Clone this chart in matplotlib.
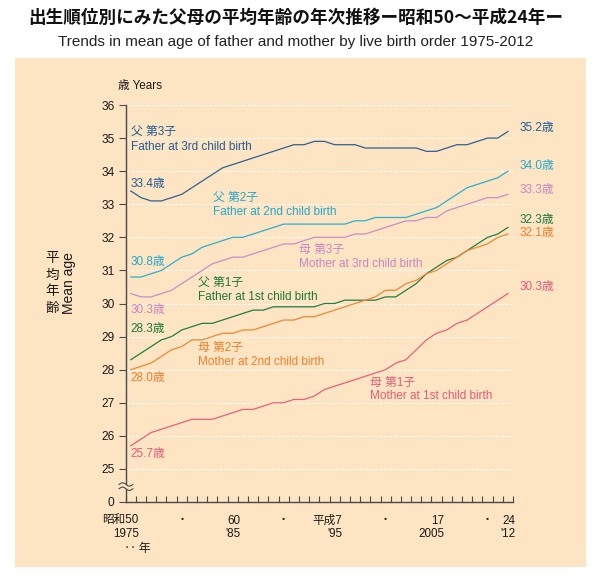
import matplotlib
matplotlib.use("Agg")
import matplotlib.pyplot as plt
from matplotlib.patches import Rectangle, Polygon
import numpy as np

years = list(range(1975, 2013))

father_3rd = [33.4, 33.2, 33.1, 33.1, 33.2, 33.3, 33.5, 33.7, 33.9, 34.1,
              34.2, 34.3, 34.4, 34.5, 34.6, 34.7, 34.8, 34.8, 34.9, 34.9,
              34.8, 34.8, 34.8, 34.7, 34.7, 34.7, 34.7, 34.7, 34.7, 34.6,
              34.6, 34.7, 34.8, 34.8, 34.9, 35.0, 35.0, 35.2]
father_2nd = [30.8, 30.8, 30.9, 31.0, 31.2, 31.4, 31.5, 31.7, 31.8, 31.9,
              32.0, 32.0, 32.1, 32.2, 32.3, 32.4, 32.4, 32.4, 32.4, 32.4,
              32.4, 32.4, 32.5, 32.5, 32.6, 32.6, 32.6, 32.6, 32.7, 32.8,
              32.9, 33.1, 33.3, 33.5, 33.6, 33.7, 33.8, 34.0]
mother_3rd = [30.3, 30.2, 30.2, 30.3, 30.4, 30.6, 30.8, 31.0, 31.2, 31.3,
              31.4, 31.4, 31.5, 31.6, 31.7, 31.8, 31.8, 31.9, 32.0, 32.0,
              32.0, 32.0, 32.1, 32.1, 32.2, 32.3, 32.4, 32.5, 32.5, 32.6,
              32.6, 32.8, 32.9, 33.0, 33.1, 33.2, 33.2, 33.3]
father_1st = [28.3, 28.5, 28.7, 28.9, 29.0, 29.2, 29.3, 29.4, 29.4, 29.5,
              29.6, 29.7, 29.8, 29.8, 29.9, 29.9, 29.9, 29.9, 29.9, 30.0,
              30.0, 30.1, 30.1, 30.1, 30.1, 30.2, 30.2, 30.4, 30.6, 30.9,
              31.1, 31.3, 31.4, 31.6, 31.8, 32.0, 32.1, 32.3]
mother_2nd = [28.0, 28.1, 28.2, 28.4, 28.6, 28.7, 28.9, 28.9, 29.0, 29.1,
              29.1, 29.2, 29.2, 29.3, 29.4, 29.5, 29.5, 29.6, 29.6, 29.7,
              29.8, 29.9, 30.0, 30.1, 30.2, 30.4, 30.4, 30.6, 30.7, 30.9,
              31.0, 31.2, 31.4, 31.6, 31.7, 31.8, 32.0, 32.1]
mother_1st = [25.7, 25.9, 26.1, 26.2, 26.3, 26.4, 26.5, 26.5, 26.5, 26.6,
              26.7, 26.8, 26.8, 26.9, 27.0, 27.0, 27.1, 27.1, 27.2, 27.4,
              27.5, 27.6, 27.7, 27.8, 27.9, 28.0, 28.2, 28.3, 28.6, 28.9,
              29.1, 29.2, 29.4, 29.5, 29.7, 29.9, 30.1, 30.3]

series_names_jp = ["父 第3子", "父 第2子", "母 第3子", "父 第1子", "母 第2子", "母 第1子"]
series_names_en = ["Father at 3rd child birth", "Father at 2nd child birth",
                   "Mother at 3rd child birth", "Father at 1st child birth",
                   "Mother at 2nd child birth", "Mother at 1st child birth"]

y_ticks = [24, 25, 26, 27, 28, 29, 30, 31, 32, 33, 34, 35, 36]
y_tick_labels = ["0", "25", "26", "27", "28", "29", "30", "31", "32", "33", "34", "35", "36"]
x_label_years = [1975, 1985, 1995, 2005, 2012]
x_label_texts = ["昭和50\n1975", "60\n'85", "平成7\n'95", "17\n2005", "24\n'12"]
x_dot_years = [1980, 1990, 2000, 2010]

title_jp = "出生順位別にみた父母の平均年齢の年次推移ー昭和50〜平成24年ー"
title_en = "Trends in mean age of father and mother by live birth order 1975-2012"

colors = ["#2a6394", "#2ab0d3", "#c88fc6", "#1f8040", "#ee8736", "#e8617c"]
text_colors = ["#215c96", "#22a9ce", "#c488c2", "#1a793a", "#ec8130", "#e55b78"]
bg = "#fde4c2"

FONT = ["Liberation Sans", "Noto Sans CJK JP", "DejaVu Sans"]
FONTJ = ["Noto Sans CJK JP", "Liberation Sans", "DejaVu Sans"]
plt.rcParams["font.family"] = FONT

W, H = 592, 575
fig = plt.figure(figsize=(W / 100, H / 100), dpi=100)
fig.patch.set_facecolor("white")

# background panel
fig.patches.append(Rectangle((15 / W, 1 - 567 / H), 571 / W, (567 - 58) / H,
                             transform=fig.transFigure, facecolor=bg,
                             edgecolor="none", zorder=-10))

fig.text(0.5, 1 - 18 / H, title_jp, ha="center", va="center", fontsize=12.7,
         fontweight="bold", family=FONTJ, color="#111111")
fig.text(0.5, 1 - 42 / H, title_en, ha="center", va="center", fontsize=11.0,
         family=FONT, color="#222222")

ax_left, ax_right = 125.7, 513.0
ax_top, ax_bot = 105.0, 502.0
ax = fig.add_axes([ax_left / W, 1 - ax_bot / H, (ax_right - ax_left) / W,
                   (ax_bot - ax_top) / H])
ax.set_zorder(1)
ax.set_facecolor("none")
ax.set_xlim(1974.5, 2012.5)
ax.set_ylim(24, 36)

# gridlines
for v in y_ticks[1:]:
    ax.axhline(v, color="white", lw=0.7, ls=(0, (3, 2)), zorder=1)

series = [father_3rd, father_2nd, mother_3rd, father_1st, mother_2nd, mother_1st]
for s, c in zip(series, colors):
    ax.plot(years, s, color=c, lw=0.9, zorder=3)

for sp in ["top", "right"]:
    ax.spines[sp].set_visible(False)
for sp in ["left", "bottom"]:
    ax.spines[sp].set_color("#4a4a4a")
    ax.spines[sp].set_linewidth(1.0)

ax.set_yticks(y_ticks)
ax.set_yticklabels(y_tick_labels)
ax.tick_params(axis="y", direction="out", length=5, width=0.8, color="#4a4a4a",
               labelsize=8.6, pad=3, labelcolor="#1a1a1a")
ax.set_xticks([1974.5 + k for k in range(39)])
ax.set_xticklabels([])
ax.tick_params(axis="x", direction="in", length=4, width=0.8, color="#4a4a4a")

# x labels
for yr, t in zip(x_label_years, x_label_texts):
    ax.annotate(t, xy=(yr + 0.5, 24), xycoords="data", xytext=(2, -9),
                textcoords="offset points", ha="right", va="top",
                fontsize=8.4, linespacing=1.12, family=FONT, color="#1a1a1a",
                multialignment="right", annotation_clip=False)
for yr in x_dot_years:
    ax.annotate("・", xy=(yr, 24), xytext=(0, -9), textcoords="offset points",
                ha="center", va="top", fontsize=8, family=FONTJ,
                color="#1a1a1a", annotation_clip=False)
ax.annotate("‥ 年", xy=(1975, 24), xytext=(-5, -29), textcoords="offset points",
            ha="left", va="top", fontsize=8.6, family=FONTJ, color="#1a1a1a",
            annotation_clip=False)

# axis break
bx0, bx1 = 1973.85, 1975.2
xs = np.linspace(bx0, bx1, 40)
amp = 0.05
yl = 24.40 + amp * np.sin((xs - bx0) / (bx1 - bx0) * 2 * np.pi)
yu = 24.53 + amp * np.sin((xs - bx0) / (bx1 - bx0) * 2 * np.pi)
poly = np.vstack([np.column_stack([xs, yl]), np.column_stack([xs[::-1], yu[::-1]])])
ax.add_patch(Polygon(poly, closed=True, facecolor=bg, edgecolor="none",
                     zorder=5, clip_on=False))
ax.plot(xs, yl, color="#4a4a4a", lw=0.8, zorder=6, clip_on=False)
ax.plot(xs, yu, color="#4a4a4a", lw=0.8, zorder=6, clip_on=False)

# unit label
fig.text(118 / W, 1 - 86 / H, "歳 Years", ha="left", va="center", fontsize=8.4,
         family=FONT, color="#1a1a1a")
# y axis label
fig.text(52 / W, 1 - 283 / H, "平\n均\n年\n齢", ha="center", va="center",
         fontsize=9.8, linespacing=1.25, family=FONTJ, color="#1a1a1a")
fig.text(69 / W, 1 - 283 / H, "Mean age", ha="center", va="center",
         rotation=90, fontsize=10, family=FONT, color="#1a1a1a")

# series name labels
name_pos = [(1975.0, 35.18, 34.73), (1983.05, 33.2, 32.78), (1991.5, 31.62, 31.2),
            (1981.63, 30.61, 30.21), (1981.57, 28.65, 28.24), (1998.43, 27.6, 27.19)]
for (x, y1, y2), jp, en, c in zip(name_pos, series_names_jp, series_names_en, text_colors):
    ax.text(x, y1, jp, ha="left", va="center", fontsize=8.5, family=FONT, color=c)
    ax.text(x, y2, en, ha="left", va="center", fontsize=8.5, family=FONT, color=c)

# start / end value labels
start_y = [33.61, 31.26, 29.81, 29.22, 27.74, 25.45]
end_y = [35.31, 34.16, 33.43, 32.53, 32.13, 30.5]
for s, ys, ye, c in zip(series, start_y, end_y, text_colors):
    ax.text(1975.0, ys, f"{s[0]:.1f}歳", ha="left", va="center", fontsize=8.5,
            family=FONT, color=c)
    ax.text(2013.1, ye, f"{s[-1]:.1f}歳", ha="left", va="center", fontsize=8.5,
            family=FONT, color=c, clip_on=False)

fig.savefig("out.png", dpi=100, facecolor="white")
